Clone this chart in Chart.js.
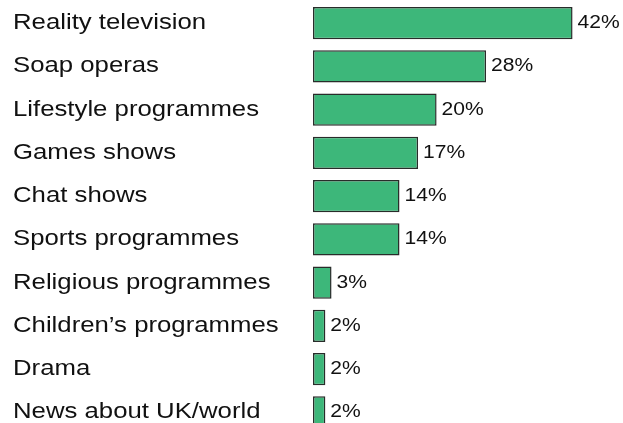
<!DOCTYPE html>
<html>
<head>
<meta charset="utf-8">
<script src="https://cdn.jsdelivr.net/npm/chart.js@4"></script>
<style>
  html, body { margin: 0; padding: 0; background: #ffffff; overflow: hidden; }
  #wrap { position: relative; width: 623px; height: 434px; }
</style>
</head>
<body>
<div id="wrap"><canvas id="chart"></canvas></div>
<script>
// Share of viewers naming each programme type
const categories = [
  "Reality television",
  "Soap operas",
  "Lifestyle programmes",
  "Games shows",
  "Chat shows",
  "Sports programmes",
  "Religious programmes",
  "Children\u2019s programmes",
  "Drama",
  "News about UK/world"
];
const values = [42, 28, 20, 17, 14, 14, 3, 2, 2, 2];
const valueLabels = values.map(v => v + "%");

// Labels are drawn with a slight horizontal stretch, like the wide sans face used in the print version
const STRETCH = 1.17;

const labelPlugin = {
  id: "sideLabels",
  afterDatasetsDraw(chart) {
    const ctx = chart.ctx;
    const yScale = chart.scales.y;
    const meta = chart.getDatasetMeta(0);
    ctx.save();
    ctx.fillStyle = "#111111";
    ctx.textBaseline = "middle";
    ctx.textAlign = "left";

    // category names on the left
    ctx.font = "22px 'Liberation Sans', Arial, sans-serif";
    categories.forEach((name, i) => {
      const y = yScale.getPixelForValue(i);
      ctx.save();
      ctx.translate(13, y);
      ctx.scale(STRETCH, 1);
      ctx.fillText(name, 0, 0);
      ctx.restore();
    });

    // value labels at the end of each bar
    ctx.font = "18px 'Liberation Sans', Arial, sans-serif";
    meta.data.forEach((bar, i) => {
      ctx.save();
      ctx.translate(bar.x + 5, bar.y);
      ctx.scale(STRETCH, 1);
      ctx.fillText(valueLabels[i], 0, 0);
      ctx.restore();
    });
    ctx.restore();
  }
};

new Chart(document.getElementById("chart"), {
  type: "bar",
  data: {
    labels: categories,
    datasets: [{
      data: values,
      backgroundColor: "rgb(61,183,122)",
      borderColor: "rgb(40,44,42)",
      borderWidth: 1.5,
      borderSkipped: false,
      barPercentage: 0.74,
      categoryPercentage: 1.0
    }]
  },
  options: {
    indexAxis: "y",
    responsive: true,
    maintainAspectRatio: false,
    animation: false,
    layout: { padding: { left: 313, right: 1, top: 1.5, bottom: 0 } },
    plugins: {
      legend: { display: false },
      tooltip: { enabled: false }
    },
    scales: {
      x: { display: false, min: 0, max: 50 },
      y: { display: false }
    }
  },
  plugins: [labelPlugin]
});
</script>
</body>
</html>
